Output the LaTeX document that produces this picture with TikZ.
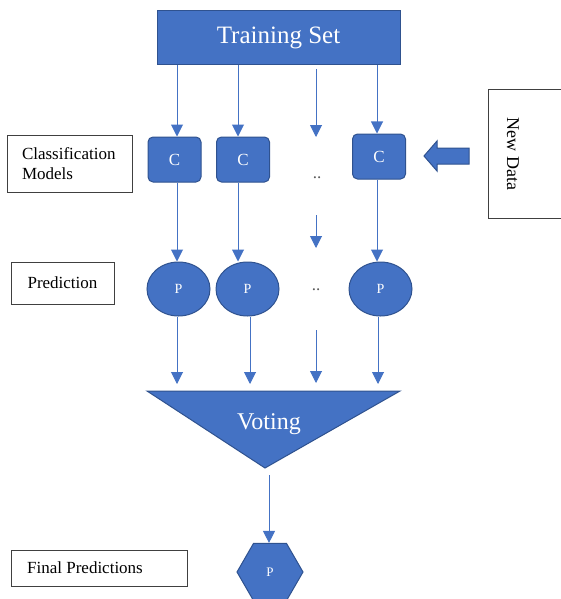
\documentclass[tikz,border=0pt]{standalone}
\usepackage{fontspec}
\setmainfont{Liberation Serif}
\usetikzlibrary{arrows.meta,shapes.geometric}
\definecolor{bfill}{HTML}{4472C4}
\definecolor{bline}{HTML}{2F528F}
\begin{document}
\begin{tikzpicture}[x=1pt,y=-1pt,
  blue/.style={fill=bfill,draw=bline,line width=1pt,text=white},
  lbl/.style={draw=black!75,line width=0.9pt,font=\fontsize{17}{20}\selectfont,inner sep=0pt},
  arr/.style={draw=bfill,line width=1pt,-{Triangle[width=12pt,length=12pt]}},
  cbox/.style={blue,rounded corners=5pt,minimum width=53pt,minimum height=45pt,inner sep=0pt,font=\fontsize{17}{17}\selectfont},
  pell/.style={blue,ellipse,minimum width=63pt,minimum height=54pt,inner sep=0pt,font=\fontsize{14}{14}\selectfont},
  dots/.style={font=\fontsize{17}{17}\selectfont,text=black!65}
]
\useasboundingbox (0,0) rectangle (560,599);
% Training set
\node[blue,minimum width=243pt,minimum height=54pt,inner sep=0pt,font=\fontsize{25}{25}\selectfont] (ts) at (278.5,38) {Training Set};
% Classifiers
\node[cbox] (c1) at (174.5,159.5) {C};
\node[cbox] (c2) at (243,159.5) {C};
\node[cbox] (c3) at (379,156.5) {C};
\node[dots] (d1) at (317,178) {..};
% Predictions
\node[pell] (p1) at (178.5,289) {P};
\node[pell] (p2) at (247.5,289) {P};
\node[pell] (p3) at (380.5,289) {P};
\node[dots] (d2) at (316,290) {..};
% Voting triangle
\path[blue] (147,391) -- (400,391) -- (265,468) -- cycle;
\node[text=white,font=\fontsize{24}{24}\selectfont] (vote) at (269,424) {Voting};
\coordinate (vtop) at (0,384);
\coordinate (vapex) at (269,475);
% Final prediction hexagon
\node[blue,regular polygon,regular polygon sides=6,minimum size=66pt,inner sep=0pt,font=\fontsize{13}{13}\selectfont] (fp) at (270,572) {P};
% labels
\node[lbl,minimum width=125pt,minimum height=57pt,align=left,text width=115pt] (lcm) at (69.5,163.5) {\hspace*{10pt}Classification\\\hspace*{10pt}Models};
\node[lbl,minimum width=103pt,minimum height=42pt] (lpr) at (62.5,283) {Prediction};
\node[lbl,minimum width=176pt,minimum height=36pt] (lfp) at (99,568) {\hspace*{-28pt}Final Predictions};
\draw[black!75,line width=0.9pt] (566,89) -- (488,89) -- (488,218) -- (566,218);
\node[rotate=-90,font=\fontsize{18}{18}\selectfont] (nd) at (513,154) {New Data};
% block arrow
\path[blue] (469,148) -- (437,148) -- (437,141) -- (424,156) -- (437,171) -- (437,164) -- (469,164) -- cycle;
% free ends of the middle column
\coordinate (m1) at (316,69);
\coordinate (m2) at (316,137);
\coordinate (m3) at (316,215);
\coordinate (m4) at (316,248);
\coordinate (m5) at (316,330);
\coordinate (m6) at (316,383);
% training -> C
\draw[arr] ([xshift=-101.5pt]ts.south) -- ([xshift=-101.5pt]ts.south |- c1.north);
\draw[arr] ([xshift=-40.5pt]ts.south) -- ([xshift=-40.5pt]ts.south |- c2.north);
\draw[arr] (m1) -- (m2);
\draw[arr] ([xshift=98.5pt]ts.south) -- ([xshift=98.5pt]ts.south |- c3.north);
% C -> P
\draw[arr] ([xshift=2.5pt]c1.south) -- ([xshift=2.5pt]c1.south |- p1.north);
\draw[arr] ([xshift=-5pt]c2.south) -- ([xshift=-5pt]c2.south |- p2.north);
\draw[arr] (m3) -- (m4);
\draw[arr] ([xshift=-2pt]c3.south) -- ([xshift=-2pt]c3.south |- p3.north);
% P -> voting
\draw[arr] ([xshift=-1.5pt]p1.south) -- ([xshift=-1.5pt]p1.south |- vtop);
\draw[arr] ([xshift=2.5pt]p2.south) -- ([xshift=2.5pt]p2.south |- vtop);
\draw[arr] (m5) -- (m6);
\draw[arr] ([xshift=-2.5pt]p3.south) -- ([xshift=-2.5pt]p3.south |- vtop);
% voting -> final
\draw[arr] (vapex) -- (vapex |- fp.north);
\end{tikzpicture}
\end{document}
